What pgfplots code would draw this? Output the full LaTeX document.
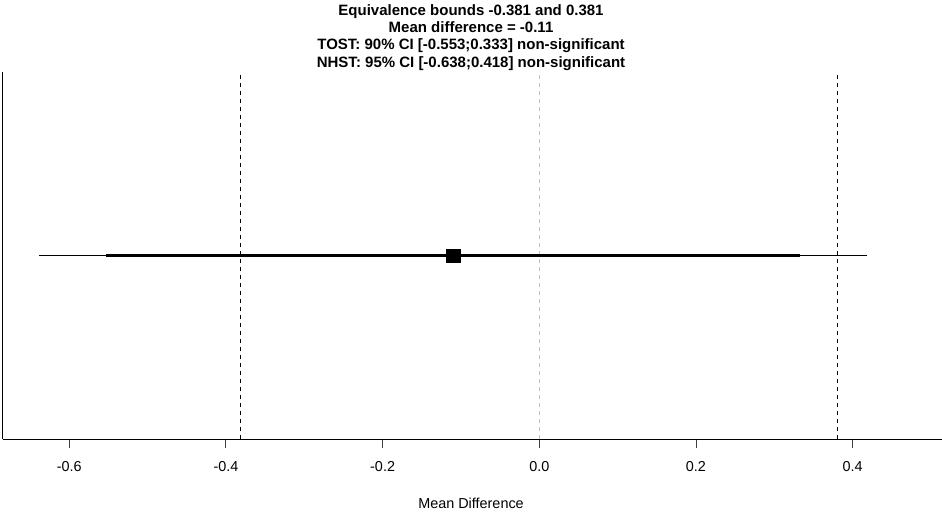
\documentclass[border=0pt]{standalone}
\usepackage{pgfplots}
\pgfplotsset{compat=1.18}
\usepackage{fontspec}
\setmainfont{Liberation Sans}
\definecolor{rgray}{RGB}{190,190,190}
\begin{document}
\begin{tikzpicture}
\useasboundingbox (0,0) rectangle (942pt,514pt);
\begin{axis}[
  at={(2.7pt,74.7pt)}, anchor=south west,
  scale only axis, width=939.3pt, height=367.3pt,
  xmin=-0.6849, xmax=0.514, ymin=0, ymax=2,
  clip=false,
  axis x line=bottom, axis y line=left,
  axis line style={-, line width=0.9pt, black},
  xtick={-0.6,-0.4,-0.2,0,0.2,0.4},
  xticklabels={-0.6,-0.4,-0.2,0.0,0.2,0.4},
  ytick=\empty,
  tick align=outside, major tick length=9pt,
  tick style={line width=0.9pt, black!75},
  xticklabel style={font=\fontsize{14.4}{17}\selectfont, anchor=center, yshift=-18.4pt},
]
\addplot[black, line width=0.9pt, dash pattern=on 4pt off 4pt] coordinates {(-0.381,0) (-0.381,2)};
\addplot[black, line width=0.9pt, dash pattern=on 4pt off 4pt] coordinates {(0.381,0) (0.381,2)};
\addplot[rgray, line width=0.9pt, dash pattern=on 4pt off 4pt] coordinates {(0,0) (0,2)};
\addplot[black, line width=0.9pt] coordinates {(-0.638,1) (0.418,1)};
\addplot[black, line width=2.8pt] coordinates {(-0.553,1) (0.333,1)};
\addplot[only marks, mark=square*, mark size=6.8pt, black] coordinates {(-0.11,1)};
\node[align=center, font=\bfseries\fontsize{15}{17.2}\selectfont, anchor=center, yshift=34.5pt] at (axis description cs:0.4986,1)
  {Equivalence bounds -0.381 and 0.381\\Mean difference = -0.11\\TOST: 90\% CI [-0.553;0.333] non-significant\\NHST: 95\% CI [-0.638;0.418] non-significant};
\node[font=\fontsize{14.4}{17}\selectfont, anchor=center, yshift=-63.7pt] at (axis description cs:0.4986,0) {Mean Difference};
\end{axis}
\end{tikzpicture}
\end{document}
